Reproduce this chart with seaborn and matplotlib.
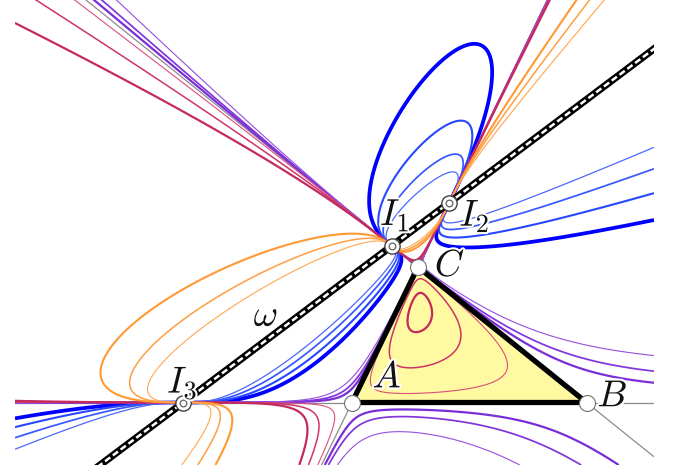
import numpy as np
import matplotlib
matplotlib.use("Agg")
import matplotlib.pyplot as plt
import seaborn as sns
from matplotlib import patheffects as pe
from matplotlib.patches import Polygon

# triangle ABC, picture coordinates (y grows downward)
A = (352.0, 402.5)
B = (586.5, 402.5)
C = (418.0, 267.0)
# two points of the line omega
omega_pts = [(183.3, 402.5), (451.5, 201.0)]

# pencil of cubics  x*y*z = k * w^3  (x, y, z barycentric, w = dist to omega / 100)
blue_k = [-0.6, -1.2, -2.4, -4.8]
blue_col = ["#0000ff", "#2848ff", "#3858ff", "#4a68ff"]
blue_lw = [2.7, 1.5, 1.25, 0.9]

purple_k = [-0.00375, -0.0075, -0.015]
purple_col = ["#7a2ed8", "#8036da", "#9450de"]
purple_lw = [1.6, 1.25, 0.8]

red_k = [0.005, 0.02, 0.04]
red_col = ["#dc4f7c", "#cf3468", "#c52a5c"]
red_lw = [0.8, 1.1, 1.6]

orange_k = [1.2, 2.4, 4.8]
orange_col = ["#ff9933", "#ff9e42", "#ffa64f"]
orange_lw = [1.5, 1.1, 0.8]

box_x = (15, 654)
box_y = (465, -50)


def line_coef(p, q):
    a = q[1] - p[1]
    b = p[0] - q[0]
    n = np.hypot(a, b)
    a, b = a / n, b / n
    return a, b, -(a * p[0] + b * p[1])


def side(p, q, X, Y, opp):
    a, b, c = line_coef(p, q)
    return (a * X + b * Y + c) / (a * opp[0] + b * opp[1] + c)


def meet(p1, p2, q1, q2):
    a1, b1, c1 = line_coef(p1, p2)
    a2, b2, c2 = line_coef(q1, q2)
    M = np.array([[a1, b1], [a2, b2]])
    return tuple(np.linalg.solve(M, [-c1, -c2]))


I1 = meet(*omega_pts, B, C)
I2 = meet(*omega_pts, C, A)
I3 = meet(*omega_pts, A, B)

sns.set_theme(style="white")
plt.rcParams["mathtext.fontset"] = "cm"

fig = plt.figure(figsize=(6.79, 4.72), dpi=100)
ax = fig.add_axes([15 / 679, 7 / 472, 639 / 679, 515 / 472])
ax.set_xlim(*box_x)
ax.set_ylim(*box_y)
ax.axis("off")

gx = np.linspace(box_x[0], box_x[1], 1300)
gy = np.linspace(box_y[1], box_y[0], 1050)
X, Y = np.meshgrid(gx, gy)
bx = side(B, C, X, Y, A)
by = side(C, A, X, Y, B)
bz = side(A, B, X, Y, C)
wa, wb, wc = line_coef(*omega_pts)
W = (wa * X + wb * Y + wc) / 100.0
if wa * A[0] + wb * A[1] + wc < 0:
    W = -W
P = bx * by * bz

ax.add_patch(Polygon([A, B, C], closed=True, facecolor="#fffaa2", edgecolor="none", zorder=1))

for p, q in [(A, B), (B, C), (C, A)]:
    ax.axline(p, q, color="#8c8c8c", lw=0.9, zorder=2)

groups = [(blue_k, blue_col, blue_lw), (purple_k, purple_col, purple_lw),
          (red_k, red_col, red_lw), (orange_k, orange_col, orange_lw)]
for ks, cols, lws in groups:
    for k, col, lw in zip(ks, cols, lws):
        ax.contour(X, Y, P - k * W ** 3, levels=[0], colors=[col], linewidths=[lw], zorder=3)

ax.add_patch(Polygon([A, B, C], closed=True, facecolor="none", edgecolor="black",
                     lw=3.8, joinstyle="miter", zorder=4))

# omega: black band with white dashes
t = np.array([-400.0, 700.0])
d = np.subtract(omega_pts[1], omega_pts[0])
d = d / np.hypot(*d)
ox = omega_pts[0][0] + t * d[0]
oy = omega_pts[0][1] + t * d[1]
sns.lineplot(x=ox, y=oy, sort=False, estimator=None, color="black", lw=5.2,
             solid_capstyle="round", ax=ax, zorder=5)
ax.plot(ox, oy, color="white", lw=1.8, linestyle=(0, (2.6, 1.3)), zorder=5.5)

for p in (A, B, C):
    ax.plot(*p, "o", ms=11.5, mfc="white", mec="#707070", mew=0.8, zorder=6)
for p in (I1, I2, I3):
    ax.plot(*p, "o", ms=11, mfc="white", mec="#404040", mew=1.0, zorder=6)
    ax.plot(*p, "o", ms=4.8, mfc="white", mec="#606060", mew=0.9, zorder=6.5)

halo = [pe.withStroke(linewidth=3, foreground="white")]
labels = [(r"$A$", A, (35, -25)), (r"$B$", B, (26, -6)), (r"$C$", C, (32, -1)),
          (r"$I_1$", I1, (3, -31)), (r"$I_2$", I2, (25, 13)), (r"$I_3$", I3, (-1, -20))]
for s, p, off in labels:
    ax.text(p[0] + off[0], p[1] + off[1], s, fontsize=27, ha="center", va="center",
            color="#111111", path_effects=halo, zorder=7)
ax.text(266, 316, r"$\omega$", fontsize=27, ha="center", va="center", color="#111111",
        path_effects=halo, zorder=7)

fig.savefig("out.png", dpi=100)
